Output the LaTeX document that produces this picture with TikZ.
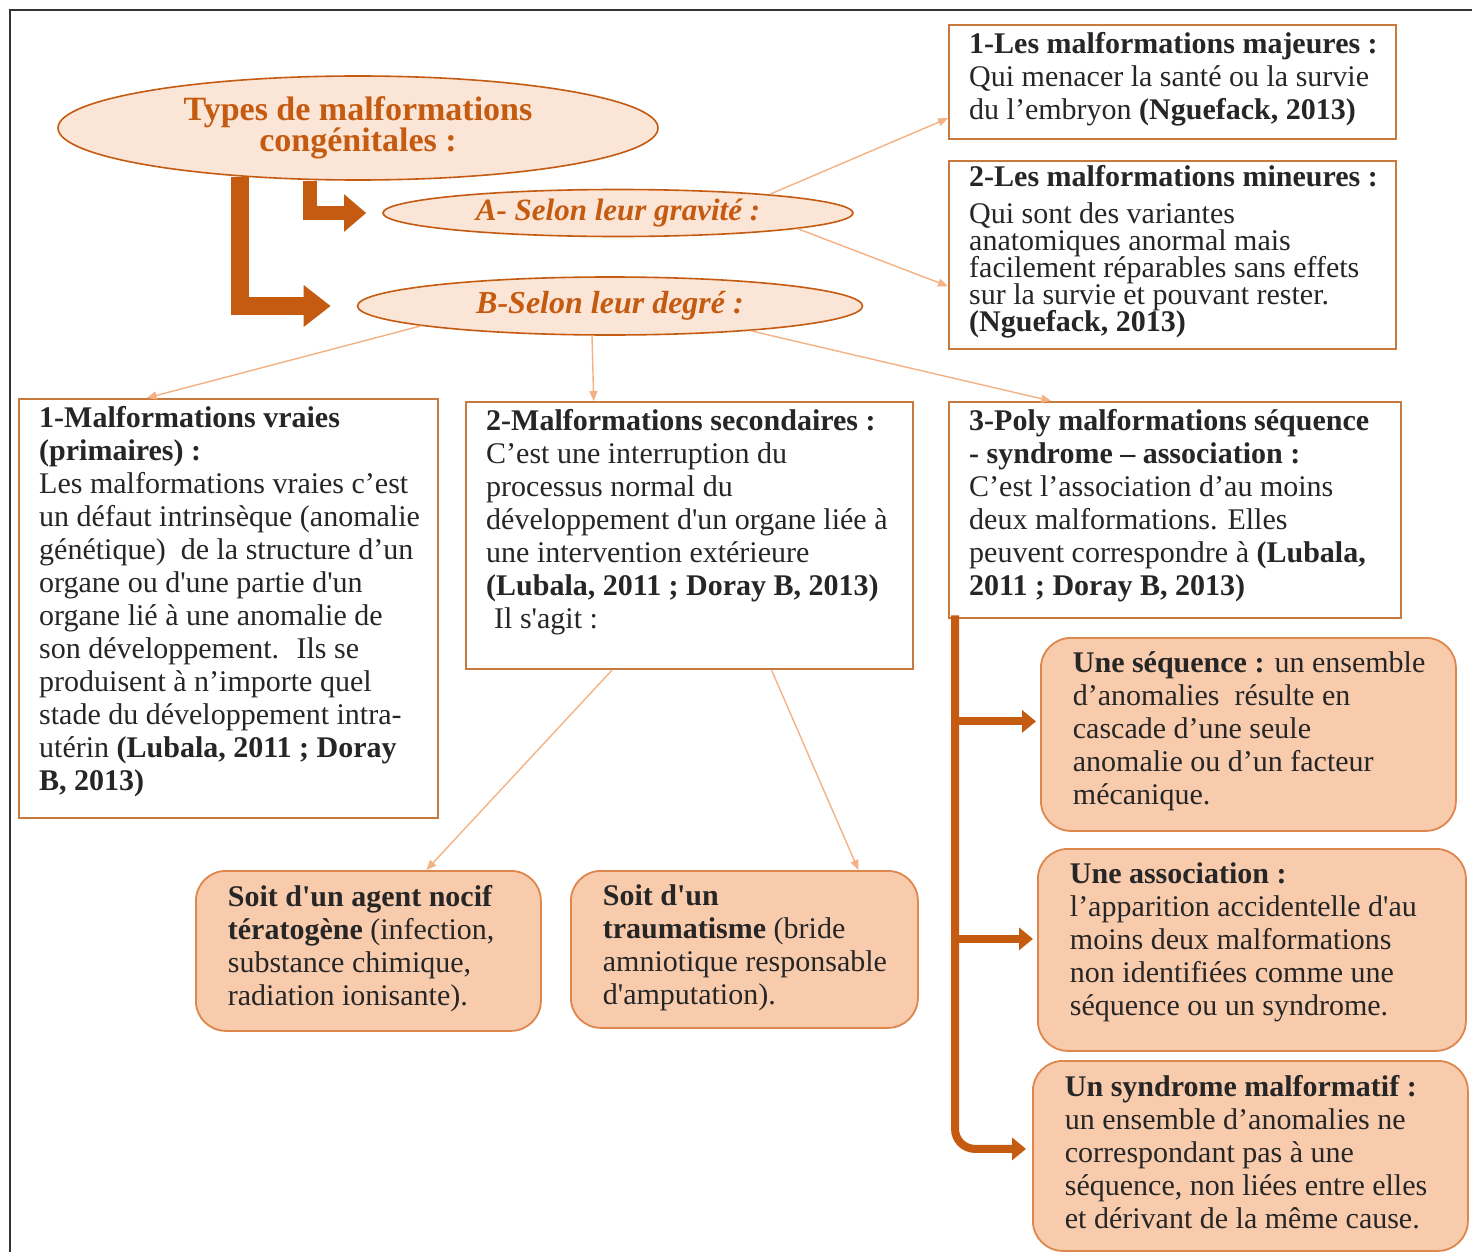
\documentclass[tikz,border=0pt]{standalone}
\usepackage{fontspec}
\setmainfont{Liberation Serif}[Ligatures=TeXOff]
\usetikzlibrary{shapes.geometric, arrows.meta}
\definecolor{rust}{RGB}{197,90,17}
\definecolor{peach}{RGB}{251,229,214}
\definecolor{salmon}{RGB}{248,203,173}
\definecolor{boxline}{RGB}{200,122,62}
\definecolor{roundline}{RGB}{222,134,76}
\definecolor{tanline}{RGB}{244,177,131}
\definecolor{inkgray}{RGB}{38,38,38}
\newcommand{\boxtext}[3]{\parbox[t][#2][t]{#1}{\parbox[t]{400pt}{#3}}}

\begin{document}
\begin{tikzpicture}[x=0.5pt, y=-0.5pt,
  every node/.style={text=inkgray, font=\fontsize{15}{16.5}\selectfont},
  bulle/.style={ellipse, draw=rust, line width=0.8pt, fill=peach, inner sep=0pt, text=rust, align=center},
  cadre/.style={draw=boxline, line width=1.2pt, fill=white, inner xsep=10pt, inner ysep=3.5pt, anchor=north west},
  pastille/.style={draw=roundline, line width=0.9pt, fill=salmon, rounded corners=15pt, inner xsep=16pt, inner ysep=7pt, anchor=north west},
  fleche/.style={tanline, line width=0.7pt, -{Triangle[length=5pt,width=4pt]}},
  grossefleche/.style={rust, line join=miter},
  branche/.style={rust, line width=4pt, -{Triangle[length=7pt,width=11pt]}}]
  \useasboundingbox (0,0) rectangle (1472,1252);
  \draw[line width=1pt, black!80] (10,1252) -- (10,10) -- (1472,10);
  \node[bulle, minimum width=300pt, minimum height=52pt, font=\bfseries\fontsize{17}{15.5}\selectfont] (types) at (358,128) {Types de malformations\\congénitales :};
  \node[bulle, minimum width=235pt, minimum height=23.5pt, font=\bfseries\itshape\fontsize{15.5}{16}\selectfont] (gravite) at (618,213) {A- Selon leur gravité :};
  \node[bulle, minimum width=252.5pt, minimum height=29pt, font=\bfseries\itshape\fontsize{16}{16}\selectfont] (degre) at (610,306) {B-Selon leur degré :};
  \node[cadre] (majeures) at (948,24) {\boxtext{203.5pt}{50pt}{\textbf{1-Les malformations majeures :}\\Qui menacer la santé ou la survie\\du l’embryon \textbf{(Nguefack, 2013)}}};
  \node[cadre] (mineures) at (948,160) {\boxtext{203.5pt}{87pt}{\vspace*{-1.5pt}\textbf{2-Les malformations mineures :}\par\vspace{5pt}\baselineskip=13.5pt\lineskiplimit=-6pt Qui sont des variantes\\anatomiques anormal mais\\facilement réparables sans effets\\sur la survie et pouvant rester.\\\textbf{(Nguefack, 2013)}}};
  \node[cadre] (vraies) at (18,398) {\boxtext{189.5pt}{202.5pt}{\textbf{1-Malformations vraies}\\\textbf{(primaires) :}\\Les malformations vraies c’est\\un défaut intrinsèque (anomalie\\génétique)~ de la structure d’un\\organe ou d'une partie d'un\\organe lié à une anomalie de\\son développement.~ Ils se\\produisent à n’importe quel\\stade du développement intra-\\utérin \textbf{(Lubala, 2011 ; Doray}\\\textbf{B, 2013)}}};
  \node[cadre] (secondaires) at (465,401) {\boxtext{203.5pt}{126.5pt}{\textbf{2-Malformations secondaires :}\\C’est une interruption du\\processus normal du\\développement d'un organe liée à\\une intervention extérieure\\\textbf{(Lubala, 2011 ; Doray B, 2013)}\\\hspace*{4pt}Il s'agit :}};
  \node[cadre] (poly) at (948,401) {\boxtext{206pt}{101pt}{\textbf{3-Poly malformations séquence}\\\textbf{- syndrome – association :}\\C’est l’association d’au moins\\deux malformations. Elles\\peuvent correspondre à \textbf{(Lubala,}\\\textbf{2011 ; Doray B, 2013)}}};
  \node[pastille] (agent) at (195,870) {\boxtext{140.5pt}{66pt}{\textbf{Soit d'un agent nocif}\\\textbf{tératogène} (infection,\\substance chimique,\\radiation ionisante).}};
  \node[pastille] (trauma) at (570,870) {\boxtext{141.5pt}{64.5pt}{\textbf{Soit d'un}\\\textbf{traumatisme} (bride\\amniotique responsable\\d'amputation).}};
  \node[pastille] (sequence) at (1040,637) {\boxtext{175.5pt}{82.5pt}{\textbf{Une séquence :} un ensemble\\d’anomalies~ résulte en\\cascade d’une seule\\anomalie ou d’un facteur\\mécanique.}};
  \node[pastille] (association) at (1037,848) {\boxtext{182pt}{87pt}{\textbf{Une association :}\\l’apparition accidentelle d'au\\moins deux malformations\\non identifiées comme une\\séquence ou un syndrome.}};
  \node[pastille] (syndrome) at (1032,1060) {\boxtext{185.5pt}{81pt}{\textbf{Un syndrome malformatif :}\\un ensemble d’anomalies ne\\correspondant pas à une\\séquence, non liées entre elles\\et dérivant de la même cause.}};
  \draw[grossefleche, line width=7pt, -{Triangle[length=11pt,width=18pt]}] ([xshift=-24pt]types.south) |- ([xshift=-8pt]gravite.west);
  \draw[grossefleche, line width=9pt, -{Triangle[length=13.5pt,width=20pt]}] ([xshift=-59pt,yshift=2pt]types.south) |- ([xshift=-13pt]degre.west);
  \draw[fleche] (gravite.7) -- ([yshift=-18pt]majeures.west);
  \draw[fleche] (gravite.-5) -- ([yshift=-15.5pt]mineures.west);
  \draw[fleche] (degre.186) -- ([xshift=-41pt]vraies.north);
  \draw[fleche] ([xshift=-9pt]degre.south) -- ([xshift=-48pt]secondaires.north);
  \draw[fleche] (degre.-10) -- ([xshift=-62pt]poly.north);
  \draw[fleche] ([xshift=-39pt]secondaires.south) -- ([xshift=29pt]agent.north);
  \draw[fleche] ([xshift=41pt]secondaires.south) -- ([xshift=57pt]trauma.north);
  \coordinate (tronc) at ([xshift=3.5pt]poly.south west);
  \coordinate (seqin) at ([xshift=-2pt,yshift=6.5pt]sequence.west);
  \coordinate (assin) at ([xshift=-2pt,yshift=5.5pt]association.west);
  \draw[branche, rounded corners=10pt] ([yshift=2pt]tronc) |- ([xshift=-3pt,yshift=3.5pt]syndrome.west);
  \draw[branche] (tronc |- seqin) -- (seqin);
  \draw[branche] (tronc |- assin) -- (assin);
\end{tikzpicture}
\end{document}
